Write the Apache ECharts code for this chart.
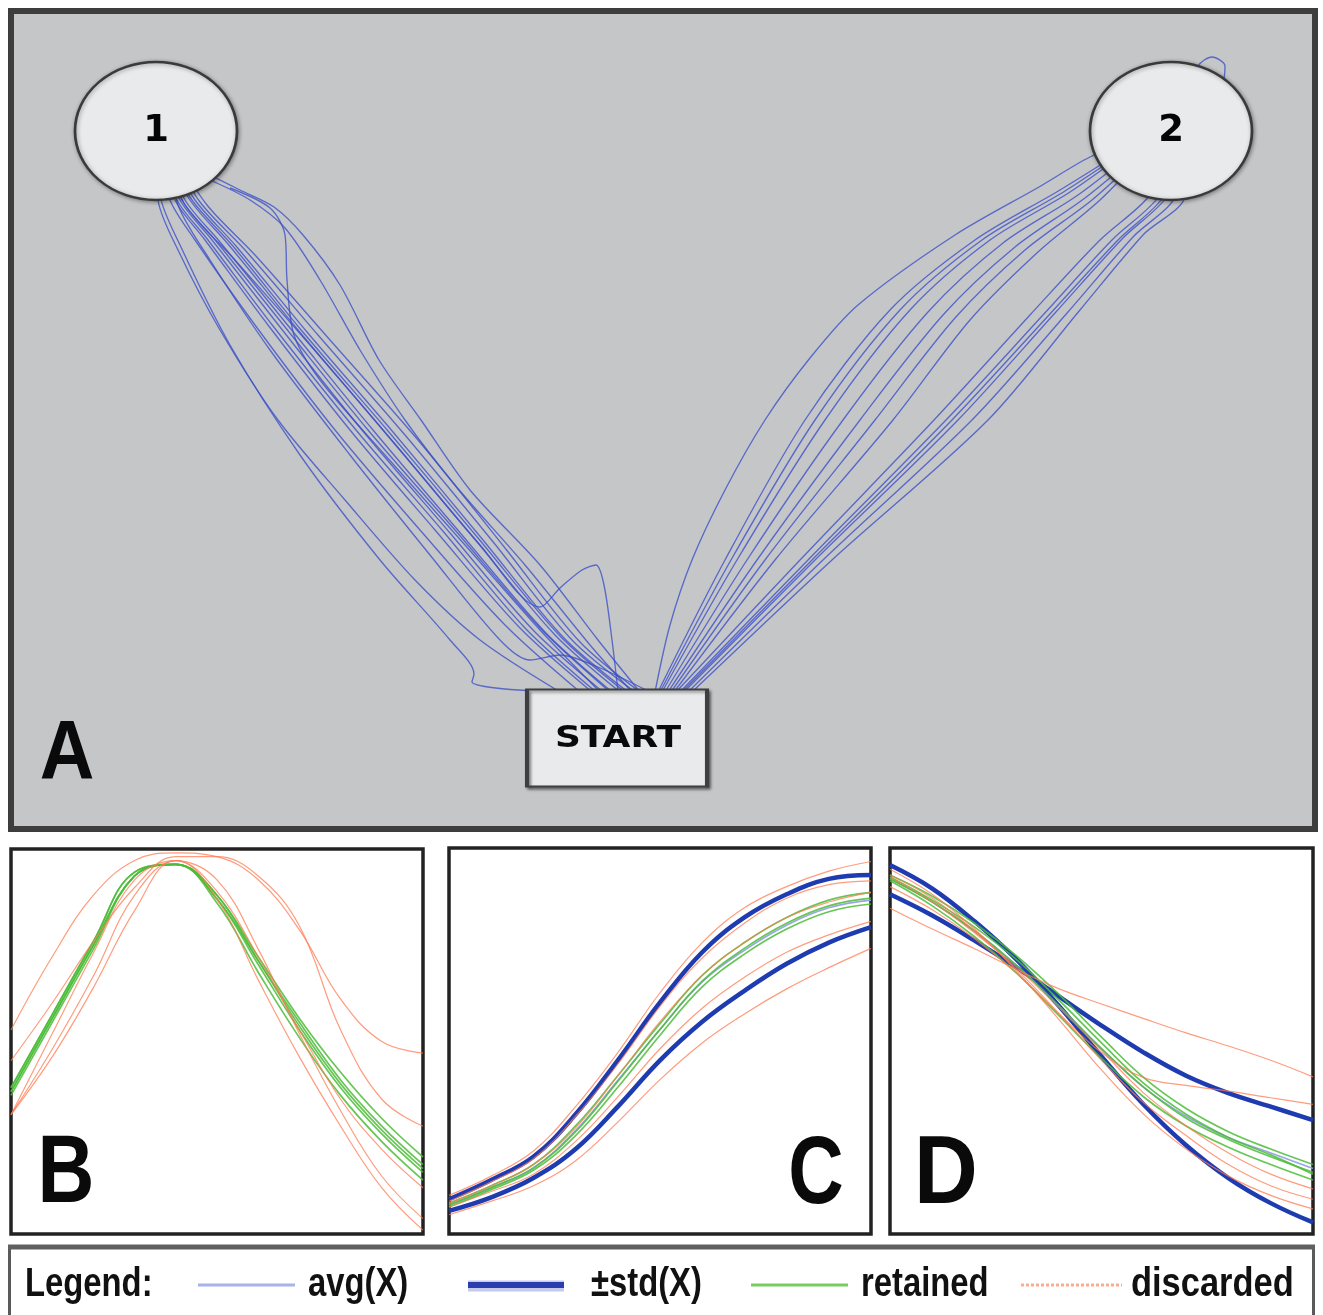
<!DOCTYPE html>
<html><head><meta charset="utf-8">
<script src="https://cdn.jsdelivr.net/npm/echarts@6/dist/echarts.min.js"></script>
<style>html,body{margin:0;padding:0;background:#fff}#c{width:1323px;height:1315px}</style>
</head><body><div id="c"></div>
<script>
// ---------- Panel A: mouse trajectories (screen pixel coordinates) ----------
const trajToTarget1 = [
  [[560,692],[480,640],[415,580],[345,500],[278,420],[220,330],[178,250],[158,200],[156,150]],
  [[580,692],[505,625],[420,530],[335,430],[255,325],[195,240],[170,200],[160,150]],
  [[592,692],[520,628],[435,530],[350,430],[268,325],[205,240],[175,200],[162,150]],
  [[603,692],[533,630],[450,533],[362,430],[280,327],[212,240],[180,200],[163,150]],
  [[612,692],[545,632],[462,535],[373,430],[290,328],[220,242],[185,200],[165,150]],
  [[620,692],[555,635],[473,537],[383,430],[298,330],[228,244],[190,200],[166,150]],
  [[628,692],[563,637],[483,540],[393,432],[307,332],[236,246],[195,200],[168,150]],
  [[635,692],[572,640],[494,543],[405,435],[318,335],[245,250],[200,202],[170,150]],
  [[640,692],[580,642],[505,548],[418,440],[330,340],[255,255],[207,205],[172,150]],
  [[632,692],[590,645],[525,565],[455,485],[405,420],[360,350],[320,280],[285,228],[250,200],[210,180]],
  [[640,692],[598,640],[540,565],[470,490],[421,420],[379,360],[340,285],[303,235],[274,207],[240,190],[200,170]],
  [[600,692],[540,630],[465,545],[385,455],[320,380],[294,335],[287,280],[285,235],[270,208],[230,188]],
  [[618,692],[612,640],[604,585],[596,565],[582,570],[560,588],[540,607],[480,545],[400,450],[310,345],[235,260],[185,205],[165,150]],
  [[538,691],[505,689],[482,686],[472,682],[474,674],[450,640],[380,560],[300,455],[230,345],[180,245],[160,195],[158,150]],
  [[610,692],[540,628],[455,530],[368,430],[285,327],[216,241],[182,200],[164,150]],
  [[625,692],[560,636],[478,538],[388,431],[302,331],[232,245],[192,200],[167,150]],
  [[650,692],[600,668],[560,655],[530,660],[500,640],[430,555],[350,455],[270,350],[210,260],[178,205],[170,150]],
  [[596,692],[525,628],[442,530],[356,430],[273,326],[208,240],[177,200],[162,150]]
];
const trajToTarget2 = [
  [[655,692],[670,625],[692,560],[725,490],[765,420],[810,358],[858,305],[955,235],[1039,187],[1090,157],[1140,137]],
  [[658,692],[725,560],[805,420],[890,310],[975,240],[1060,190],[1140,140]],
  [[662,692],[737,560],[825,420],[910,310],[990,240],[1070,192],[1140,142]],
  [[665,692],[747,560],[843,420],[928,312],[1003,243],[1078,195],[1142,145]],
  [[668,692],[757,560],[860,420],[943,315],[1015,247],[1085,198],[1145,148]],
  [[671,692],[765,560],[875,420],[955,318],[1025,250],[1092,200],[1146,150]],
  [[674,692],[775,560],[893,420],[970,320],[1038,252],[1100,200],[1148,150]],
  [[660,692],[731,560],[815,420],[900,310],[982,240],[1065,191],[1140,141]],
  [[676,692],[800,560],[934,420],[1030,315],[1100,240],[1150,195],[1168,150]],
  [[680,692],[808,560],[946,420],[1043,315],[1112,240],[1160,195],[1172,150]],
  [[684,692],[815,560],[958,420],[1055,313],[1123,238],[1168,195],[1176,150]],
  [[688,692],[823,560],[972,420],[1068,312],[1133,237],[1176,195],[1180,150]],
  [[692,692],[832,560],[988,420],[1080,310],[1143,235],[1185,195],[1185,150]],
  [[682,692],[812,560],[952,420],[1049,315],[1118,240],[1165,195],[1182,140],[1190,95],[1198,66],[1212,57],[1225,66],[1222,85],[1200,115]]
];
const targets = [[156,131,'1'],[1171,131,'2']];
const startPoint = [[617,738,'START']];

// ---------- Panels B, C, D: normalized time (x) vs normalized value (y) ----------
const sampleX = [0,10,20,30,40,50,60,70,80,90,100];

const B_retained = [
  [38,57,76,94,96,86,68,51,36,24,14],
  [37,56,75,93,96,87,70,53,38,26,16],
  [36,55,74,93,96,88,71,55,40,28,18],
  [37,56,75,93,96,88,72,56,42,30,20],
  [38,57,76,94,96,87,71,54,39,27,17]
];
const B_discarded = [
  [53,72,88,97,99,98,92,79,61,50,47],
  [45,60,76,90,98,98,93,80,53,35,28],
  [31,52,73,92,97,87,66,46,28,12,1],
  [31,46,64,84,97,92,74,52,32,15,4],
  [31,48,67,88,97,89,72,53,35,22,12]
];

const C_avg = [7.5,12,17.2,26.8,39.8,53,65.3,73.5,80,84.5,86.5];
const C_std = [
  [9,14,20,31,45,60,73,82,88,92,93],
  [6,9.5,14.5,22,33,45,55,63,70,75.5,79.5]
];
const C_retained = [
  [8,12.5,18,28,41,54.5,67,75.5,82,86.5,88.5],
  [7.5,12,17,26.5,39.5,53,65.5,74,80.5,85,87],
  [7,11.5,16.5,25.5,38,51.5,64,72.5,79,83.5,85.5]
];
const C_discarded = [
  [10,15,21.5,33,47,62.5,75.5,84.5,90,94,96.5],
  [8.5,13.5,19.5,30.5,44,59,71.5,80.5,87,90.5,91.5],
  [8,12.5,18,27.5,41,55,67,75.5,82,86,88.5],
  [7,11,15.5,24,35.5,48,58.5,66.5,73,77.5,81],
  [5,8.5,12.5,19,29,40,49.5,57,63.5,69,74]
];

const D_avg = [92,86,78.5,69.5,59,48,38,30.5,25,21,17];
const D_std = [
  [88,82.5,76,69,61.5,54,47,41,36.5,33,29.5],
  [95.6,89.5,81,71,59,46,33.5,23,14.5,8,3]
];
const D_retained = [
  [93,87.5,80.5,72,62,51,40.5,32.5,26.5,22,18],
  [92,86,78.5,69.5,59,48,38,30,24.5,20,16],
  [91.5,85,77,67.5,56.5,45.5,35.5,28,22.5,18,14],
  [92.5,86.5,79.5,71,60.5,49.5,39,31,25,20.5,15.5]
];
const D_discarded = [
  [84.4,79,73.9,68.5,63.5,59.6,55.8,52.1,48.7,45,40.7],
  [90,84,76.5,67.5,57,47,40.5,38.5,37,35.3,33.6],
  [94.5,88,79,68,55.5,42.5,31,22,15,10,6.5],
  [93,87,78.5,68.5,57,45,34,25.5,18,12.5,9],
  [92.5,86,78,69,58.5,47.5,36.5,28,21,15.5,11.7]
];

const panelLetters = ['A','B','C','D'];
const legendTitle = 'Legend:';
const legendLabels = ['avg(X)','\u00B1std(X)','retained','discarded'];

// ---------- build ----------
const chart = echarts.init(document.getElementById('c'));
const SANS = '"Liberation Sans","Arial",sans-serif';

const styles = {
  traj: {color:'#3a4ec6', width:1.35, opacity:0.78},
  avg: {color:'#8e9be6', width:1.6, opacity:0.9},
  std: {color:'#1f3bb0', width:4.5, opacity:1},
  retained: {color:'#4cbc38', width:1.7, opacity:0.85},
  discarded: {color:'#ff7b52', width:1.2, opacity:0.75}
};

const series = [];
function addTraj(list){
  list.forEach(t => series.push({
    type:'line', xAxisIndex:0, yAxisIndex:0, data:t, smooth:0.3, symbol:'none',
    lineStyle:styles.traj, silent:true, z:2
  }));
}
addTraj(trajToTarget1);
addTraj(trajToTarget2);

series.push({
  type:'scatter', xAxisIndex:0, yAxisIndex:0, z:5, silent:true,
  symbol:'path://M0,50 A50,50 0 1,1 100,50 A50,50 0 1,1 0,50 Z',
  symbolSize:[162,138],
  itemStyle:{color:'#e9eaeb', opacity:1, borderColor:'#3a3a3a', borderWidth:2.5,
    shadowBlur:4, shadowColor:'rgba(0,0,0,0.35)', shadowOffsetX:1, shadowOffsetY:1},
  label:{show:true, position:'inside', formatter:p=>p.name,
    fontFamily:'DejaVu Sans', fontWeight:'bold', fontSize:37, color:'#050505'},
  data:targets.map(t=>({value:[t[0],t[1]], name:t[2]}))
});
series.push({
  type:'scatter', xAxisIndex:0, yAxisIndex:0, z:5, silent:true,
  symbol:'rect', symbolSize:[180,97],
  itemStyle:{color:'#e9eaeb', opacity:1, borderColor:'#3f3f3f', borderWidth:3,
    shadowBlur:3, shadowColor:'rgba(0,0,0,0.45)', shadowOffsetX:2, shadowOffsetY:2},
  data:startPoint.map(t=>({value:[t[0],t[1]], name:t[2]}))
});

function addCurves(idx, arr, st){
  arr.forEach(v => series.push({
    type:'line', xAxisIndex:idx, yAxisIndex:idx, data:sampleX.map((x,i)=>[x,v[i]]),
    smooth:0.4, symbol:'none', lineStyle:st, silent:true, z:2
  }));
}
addCurves(1, B_retained, styles.retained);
addCurves(1, B_discarded, styles.discarded);
addCurves(2, C_std, styles.std);
addCurves(2, [C_avg], styles.avg);
addCurves(2, C_retained, styles.retained);
addCurves(2, C_discarded, styles.discarded);
addCurves(3, D_std, styles.std);
addCurves(3, [D_avg], styles.avg);
addCurves(3, D_retained, styles.retained);
addCurves(3, D_discarded, styles.discarded);

const grids = [
  {left:11, top:11, width:1304, height:818, show:true, backgroundColor:'#c5c6c8', borderColor:'#3d3d3d', borderWidth:6},
  {left:11, top:849, width:412, height:385, show:true, backgroundColor:'#fff', borderColor:'#222', borderWidth:3.5},
  {left:449, top:848, width:422, height:386, show:true, backgroundColor:'#fff', borderColor:'#222', borderWidth:3.5},
  {left:890, top:848, width:423, height:386, show:true, backgroundColor:'#fff', borderColor:'#222', borderWidth:3.5}
];
const hidden = {show:false};
const xAxes = [
  {type:'value', gridIndex:0, min:11, max:1315, ...hidden},
  {type:'value', gridIndex:1, min:0, max:100, ...hidden},
  {type:'value', gridIndex:2, min:0, max:100, ...hidden},
  {type:'value', gridIndex:3, min:0, max:100, ...hidden}
];
const yAxes = [
  {type:'value', gridIndex:0, min:11, max:829, inverse:true, ...hidden},
  {type:'value', gridIndex:1, min:0, max:100, ...hidden},
  {type:'value', gridIndex:2, min:0, max:100, ...hidden},
  {type:'value', gridIndex:3, min:0, max:100, ...hidden}
];

// letter: [x, y, fontSize, scaleX]
const letterPos = [[67,756,84,0.9],[66,1176,96,0.82],[816,1177,96,0.8],[946,1177,96,0.92]];
const graphic = [];
panelLetters.forEach((L,i)=>graphic.push({
  type:'text', x:letterPos[i][0], y:letterPos[i][1], z:20, silent:true, scaleX:letterPos[i][3],
  style:{text:L, font:'bold '+letterPos[i][2]+'px '+SANS, fill:'#0a0a0a', textAlign:'center', textVerticalAlign:'middle'}
}));
graphic.push({type:'text', x:618, y:739, z:20, scaleX:1.2, silent:true,
  style:{text:startPoint[0][2], font:'bold 30px "DejaVu Sans"', fill:'#0a0a0a', textAlign:'center', textVerticalAlign:'middle'}});

// legend box
graphic.push({type:'rect', z:10, silent:true, shape:{x:9.5, y:1247.5, width:1304, height:90},
  style:{fill:'#fff', stroke:'#5a5a5a', lineWidth:3}});
graphic.push({type:'line', z:11, silent:true, shape:{x1:8, y1:1247, x2:1315, y2:1247}, style:{stroke:'#606060', lineWidth:5}});
const LY = 1285;
const legendLines = [
  {x1:198,x2:295, stroke:'#a9b2ea', w:3},
  {x1:468,x2:564, stroke:'#2a3fae', w:6, halo:true},
  {x1:751,x2:848, stroke:'#7acb62', w:3},
  {x1:1021,x2:1122, stroke:'#ffab92', w:3, dash:[3,2]}
];
legendLines.forEach(l=>{
  if(l.halo) graphic.push({type:'line', z:12, silent:true, shape:{x1:l.x1,y1:LY+1,x2:l.x2,y2:LY+1}, style:{stroke:'#c5cbef', lineWidth:11}});
  graphic.push({type:'line', z:13, silent:true, shape:{x1:l.x1,y1:LY,x2:l.x2,y2:LY}, style:{stroke:l.stroke, lineWidth:l.w, lineDash:l.dash||null}});
});
const legendTextX = [308,591,861,1131];
const legendScale = 0.8;
graphic.push({type:'text', x:25, y:LY, z:14, silent:true, scaleX:legendScale,
  style:{text:legendTitle, font:'bold 41px '+SANS, fill:'#111', textAlign:'left', textVerticalAlign:'middle'}});
legendLabels.forEach((t,i)=>graphic.push({type:'text', x:legendTextX[i], y:LY, z:14, silent:true, scaleX:(i===3?0.84:legendScale),
  style:{text:t, font:'bold 41px '+SANS, fill:'#111', textAlign:'left', textVerticalAlign:'middle'}}));

chart.setOption({
  animation:false,
  backgroundColor:'#fff',
  grid:grids, xAxis:xAxes, yAxis:yAxes, series, graphic
});
</script></body></html>
